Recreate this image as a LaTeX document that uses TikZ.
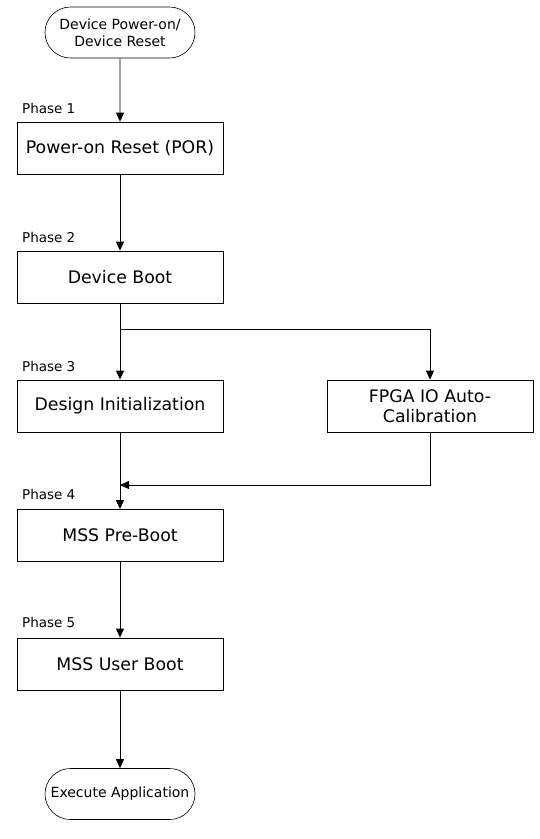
\documentclass[tikz,border=0pt]{standalone}
\usepackage{fontspec}
\setmainfont{DejaVu Sans}
\usetikzlibrary{arrows.meta,shapes.misc}
\tikzset{
  stepbox/.style={draw, line width=0.8pt, minimum width=206pt, minimum height=52pt, inner sep=2pt, align=center, font=\fontsize{17.3}{20.5}\selectfont},
  term/.style={draw, rounded rectangle, line width=0.6pt, minimum width=154pt, minimum height=51pt, inner sep=2pt, align=center, font=\fontsize{14}{17}\selectfont},
  phase/.style={anchor=base west, font=\fontsize{13.5}{16}\selectfont},
  flow/.style={line width=0.8pt, -{Triangle[width=8pt,length=9pt]}}
}
\begin{document}
\begin{tikzpicture}[x=1pt,y=1pt]
            \useasboundingbox (0,0) rectangle (539,-839);
            % start / end
            \node[term] (start) at (120,-32.5) {Device Power-on/\\Device Reset};
            \node[term] (exec) at (120,-794) {Execute Application};
            % phases
            \node[stepbox] (por) at (120,-148) {Power-on Reset (POR)};
            \node[stepbox] (boot) at (120,-277) {Device Boot};
            \node[stepbox] (init) at (120,-406) {Design Initialization};
            \node[stepbox] (fpga) at (430,-406) {FPGA IO Auto-\\Calibration};
            \node[stepbox] (preboot) at (120,-535.5) {MSS Pre-Boot};
            \node[stepbox] (userboot) at (120,-664) {MSS User Boot};
            \node[phase] (ph1) at ([shift={(2,8)}]por.north west) {Phase 1};
            \node[phase] (ph2) at ([shift={(2,8)}]boot.north west) {Phase 2};
            \node[phase] (ph3) at ([shift={(2,8)}]init.north west) {Phase 3};
            \node[phase] (ph4) at ([shift={(2,10)}]preboot.north west) {Phase 4};
            \node[phase] (ph5) at ([shift={(2,10)}]userboot.north west) {Phase 5};
            % connectors
            \coordinate (split) at (120,-329);
            \coordinate (merge) at (120,-485);
            \draw[flow] (start) -- (por);
            \draw[flow] (por) -- (boot);
            \draw[flow] (boot) -- (init);
            \draw[flow] (split) -| (fpga);
            \draw[flow] (init) -- (preboot);
            \draw[flow] (fpga.south) |- (merge);
            \draw[flow] (preboot) -- (userboot);
            \draw[flow] (userboot) -- (exec);
          \end{tikzpicture}
\end{document}
